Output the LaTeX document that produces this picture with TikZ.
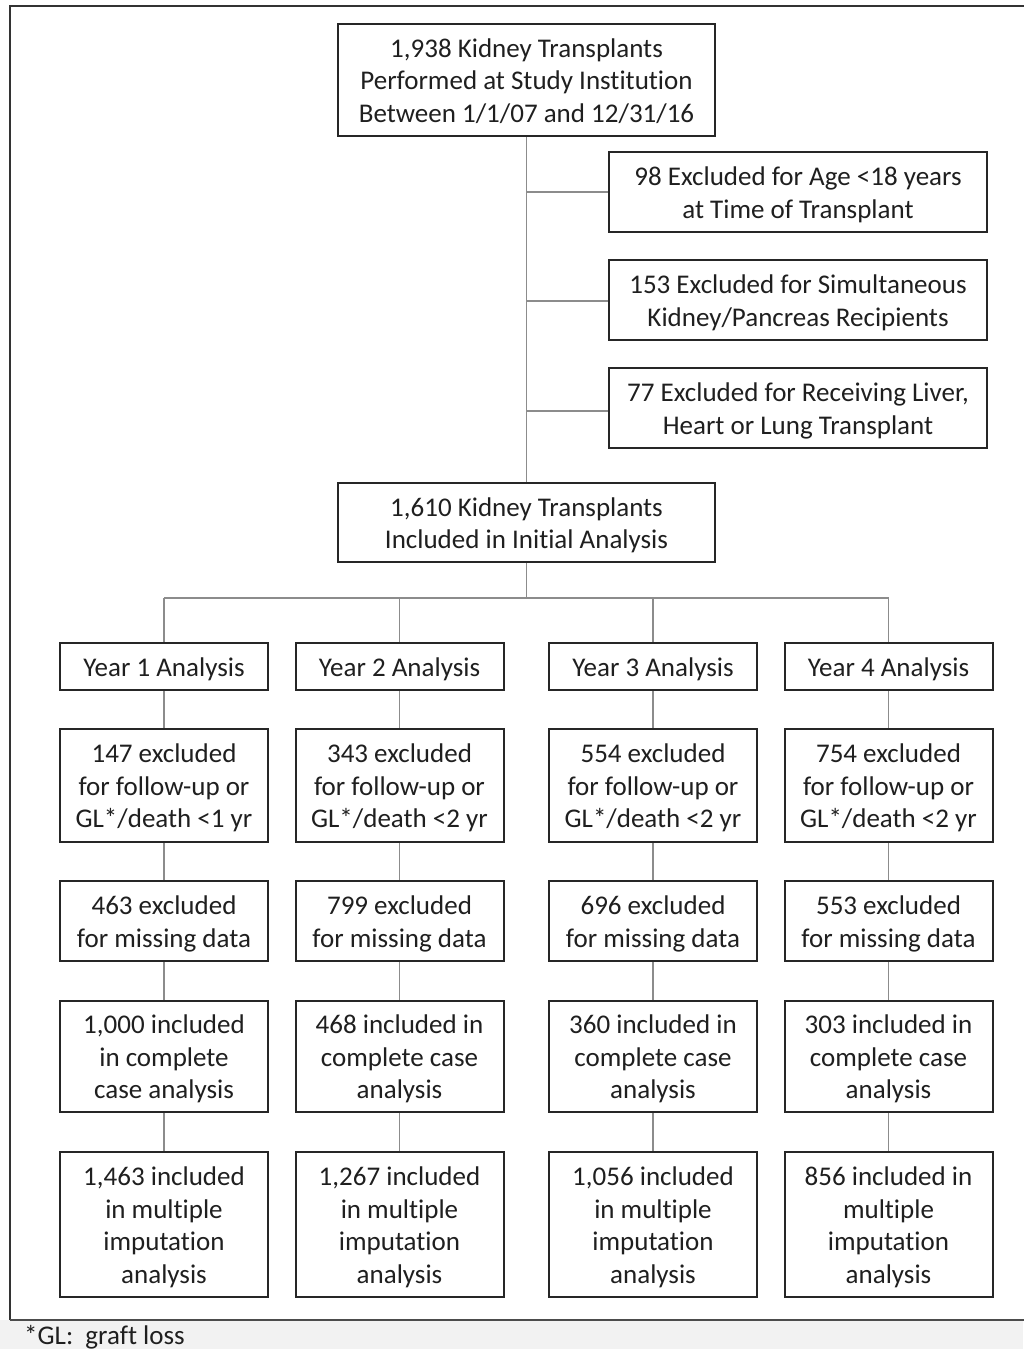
\documentclass[tikz,border=0pt]{standalone}
\usepackage{fontspec}
\setmainfont{Carlito}[RawFeature=-liga]
\definecolor{boxline}{HTML}{262626}
\definecolor{conn}{HTML}{8C8C8C}
\definecolor{foot}{HTML}{F2F2F2}
\newcommand\bxtext[1]{\raisebox{-3.3pt}[\height][\depth]{\begin{tabular}{@{}c@{}}#1\end{tabular}}}
\begin{document}
\begin{tikzpicture}[x=1pt,y=-1pt,
  box/.style={draw=boxline,line width=2pt,fill=white,inner sep=0pt,
    font=\fontsize{27}{32.5}\selectfont,text=black!88},
  wide/.style={box,minimum width=377pt},
  side/.style={box,minimum width=378pt,minimum height=80pt},
  col/.style={box,minimum width=208pt},
  yr/.style={col,minimum height=47pt},
  exc/.style={col,minimum height=113pt},
  miss/.style={col,minimum height=80pt},
  comp/.style={col,minimum height=111pt},
  mult/.style={col,minimum height=145pt},
  link/.style={draw=conn,line width=1.4pt}]
\useasboundingbox (0,0) rectangle (1023,1349);
\fill[foot] (0,1320) rectangle (1023,1349);
\fill[white] (0,0) rectangle (1023,1320);
\draw[line width=2pt,black!80] (10,1320) -- (10,6) -- (1030,6);
\draw[line width=2pt,black!70] (10,1320) -- (1030,1320);

\node[wide,minimum height=112pt] (top) at (526.5,80) {\bxtext{1,938 Kidney Transplants\\Performed at Study Institution\\Between 1/1/07 and 12/31/16}};
\node[side] (r1) at (798,192) {\bxtext{98 Excluded for Age <18 years\\at Time of Transplant}};
\node[side] (r2) at (798,300) {\bxtext{153 Excluded for Simultaneous\\Kidney/Pancreas Recipients}};
\node[side] (r3) at (798,408) {\bxtext{77 Excluded for Receiving Liver,\\Heart or Lung Transplant}};
\node[wide,minimum height=79pt] (mid) at (526.5,522.5) {\bxtext{1,610 Kidney Transplants\\Included in Initial Analysis}};

\coordinate (b1) at (526.5,192);
\coordinate (b2) at (526.5,301);
\coordinate (b3) at (526.5,411);
\coordinate (bus) at (526.5,598);

% columns
\node[yr] (y1) at (164,666.5) {\bxtext{Year 1 Analysis}};
\node[yr] (y2) at (399.5,666.5) {\bxtext{Year 2 Analysis}};
\node[yr] (y3) at (653,666.5) {\bxtext{Year 3 Analysis}};
\node[yr] (y4) at (888.5,666.5) {\bxtext{Year 4 Analysis}};

\node[exc] (e1) at (164,785.5) {\bxtext{147 excluded\\for follow-up or\\GL*/death <1 yr}};
\node[exc] (e2) at (399.5,785.5) {\bxtext{343 excluded\\for follow-up or\\GL*/death <2 yr}};
\node[exc] (e3) at (653,785.5) {\bxtext{554 excluded\\for follow-up or\\GL*/death <2 yr}};
\node[exc] (e4) at (888.5,785.5) {\bxtext{754 excluded\\for follow-up or\\GL*/death <2 yr}};

\node[miss] (m1) at (164,921) {\bxtext{463 excluded\\for missing data}};
\node[miss] (m2) at (399.5,921) {\bxtext{799 excluded\\for missing data}};
\node[miss] (m3) at (653,921) {\bxtext{696 excluded\\for missing data}};
\node[miss] (m4) at (888.5,921) {\bxtext{553 excluded\\for missing data}};

\node[comp] (c1) at (164,1056.5) {\bxtext{1,000 included\\in complete\\case analysis}};
\node[comp] (c2) at (399.5,1056.5) {\bxtext{468 included in\\complete case\\analysis}};
\node[comp] (c3) at (653,1056.5) {\bxtext{360 included in\\complete case\\analysis}};
\node[comp] (c4) at (888.5,1056.5) {\bxtext{303 included in\\complete case\\analysis}};

\node[mult] (u1) at (164,1224.5) {\bxtext{1,463 included\\in multiple\\imputation\\analysis}};
\node[mult] (u2) at (399.5,1224.5) {\bxtext{1,267 included\\in multiple\\imputation\\analysis}};
\node[mult] (u3) at (653,1224.5) {\bxtext{1,056 included\\in multiple\\imputation\\analysis}};
\node[mult] (u4) at (888.5,1224.5) {\bxtext{856 included in\\multiple\\imputation\\analysis}};

% connectors
\draw[link] (top.south) -- (mid.north);
\draw[link] (b1) -- (r1.west);
\draw[link] (b2) -- (r2.west |- b2);
\draw[link] (b3) -- (r3.west |- b3);
\draw[link] (mid.south) -- (bus);
\draw[link] (y1.north |- bus) -- (y4.north |- bus);
\foreach \i in {1,2,3,4}{
  \draw[link] (y\i.north |- bus) -- (y\i.north);
  \draw[link] (y\i.south) -- (e\i.north);
  \draw[link] (e\i.south) -- (m\i.north);
  \draw[link] (m\i.south) -- (c\i.north);
  \draw[link] (c\i.south) -- (u\i.north);
}

\node[anchor=base west,inner sep=0pt,font=\fontsize{27}{30}\selectfont,text=black!88] (fn) at (24,1344) {*GL:\ \ graft loss};
\end{tikzpicture}
\end{document}
